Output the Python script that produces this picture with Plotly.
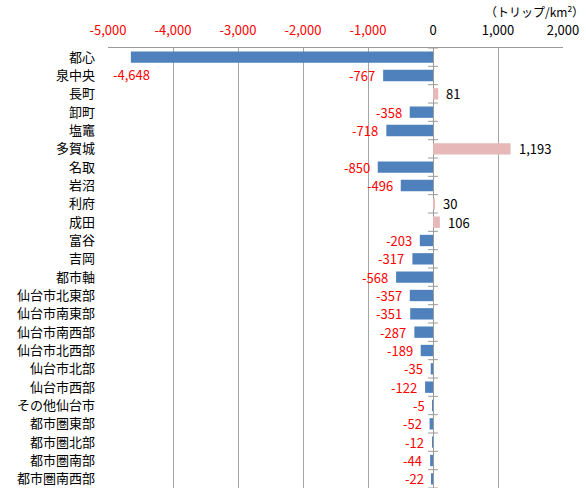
import plotly.graph_objects as go

categories = ["都心", "泉中央", "長町", "卸町", "塩竈", "多賀城", "名取", "岩沼", "利府", "成田",
              "富谷", "吉岡", "都市軸", "仙台市北東部", "仙台市南東部", "仙台市南西部", "仙台市北西部",
              "仙台市北部", "仙台市西部", "その他仙台市", "都市圏東部", "都市圏北部", "都市圏南部", "都市圏南西部"]
values = [-4648, -767, 81, -358, -718, 1193, -850, -496, 30, 106,
          -203, -317, -568, -357, -351, -287, -189, -35, -122, -5, -52, -12, -44, -22]
x_ticks = [-5000, -4000, -3000, -2000, -1000, 0, 1000, 2000]
unit_label = "（トリップ/km<sup>2</sup>）"

FONT = "Noto Sans CJK JP"
pos = list(range(len(categories)))
colors = ["#4F81BD" if v < 0 else "#E6B9B8" for v in values]

fig = go.Figure()
fig.add_trace(go.Bar(
    x=values, y=pos, orientation="h", marker=dict(color=colors, line=dict(width=0)),
    width=0.62, showlegend=False, hoverinfo="skip",
))
# category tick marks on the zero axis
fig.add_trace(go.Scatter(
    x=[0] * (len(categories) + 1), y=[i - 0.5 for i in range(len(categories) + 1)],
    mode="markers", marker=dict(symbol="line-ew-open", size=7, color="#9A9A9A",
                                line=dict(color="#9A9A9A", width=1)),
    showlegend=False, hoverinfo="skip",
))

for i, v in enumerate(values):
    txt = f"{v:,}"
    if v < 0:
        if v < -4000:
            fig.add_annotation(x=x_ticks[0], y=i, text=txt, showarrow=False, xanchor="left",
                               xshift=3, yshift=-17, font=dict(color="#FF0000", size=13, family=FONT))
        else:
            fig.add_annotation(x=v, y=i, text=txt, showarrow=False, xanchor="right",
                               xshift=-6, font=dict(color="#FF0000", size=13, family=FONT))
    else:
        fig.add_annotation(x=v, y=i, text=txt, showarrow=False, xanchor="left",
                           xshift=6, font=dict(color="#000000", size=13, family=FONT))

ticktext = [f"<span style='color:#FF0000'>{t:,}</span>" if t < 0 else f"{t:,}" for t in x_ticks]

fig.add_annotation(x=1, xref="paper", y=1, yref="paper", yanchor="bottom", xanchor="right",
                   yshift=26, xshift=23, text=unit_label, showarrow=False,
                   font=dict(size=12, color="#000000", family=FONT))

fig.update_layout(
    width=586, height=490,
    margin=dict(l=108, r=23, t=48, b=2),
    plot_bgcolor="white", paper_bgcolor="white",
    font=dict(family=FONT, size=12, color="#000000"),
    bargap=0.38,
    xaxis=dict(side="top", range=[-5000, 2000], tickvals=x_ticks, ticktext=ticktext,
               showgrid=True, gridcolor="#A6A6A6", gridwidth=1,
               zeroline=True, zerolinecolor="#9A9A9A", zerolinewidth=1,
               showline=True, linecolor="#9A9A9A", linewidth=1, mirror=False,
               ticks="", ticklabelstandoff=7, tickfont=dict(size=13, family=FONT), fixedrange=True),
    yaxis=dict(tickvals=pos, ticktext=categories, range=[len(categories) - 0.5, -0.5],
               showgrid=False, zeroline=False, showline=False, ticks="",
               tickfont=dict(size=13, family=FONT, color="#000000"), ticklabelstandoff=12,
               fixedrange=True),
)

fig.write_html("out.html")
